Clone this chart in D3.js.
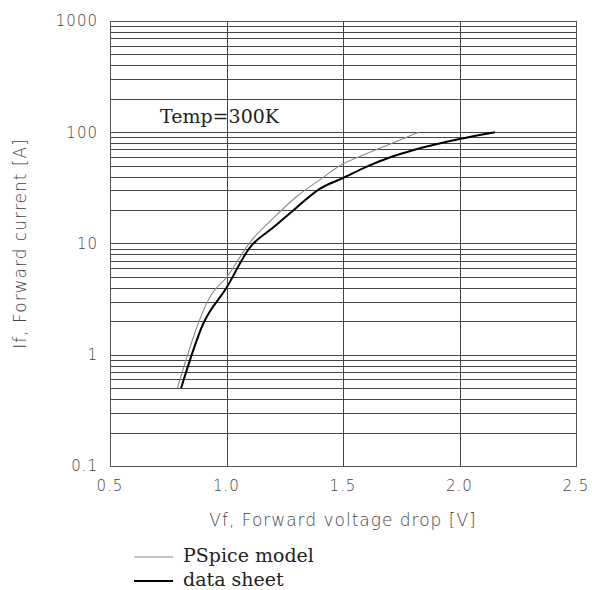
<!DOCTYPE html>
<html>
<head>
<meta charset="utf-8">
<script src="https://cdn.jsdelivr.net/npm/d3@7"></script>
<style>
  html, body { margin: 0; padding: 0; background: #fff; }
  svg { display: block; }
  .sans { font-family: "DejaVu Sans", sans-serif; font-weight: 200; fill: #444; }
  .serif { font-family: "DejaVu Serif", serif; fill: #222; }
</style>
</head>
<body>
<svg id="chart" width="592" height="590"></svg>
<script>
// ---- data ----
const xTicks = [0.5, 1.0, 1.5, 2.0, 2.5];
const xTickLabels = ["0.5", "1.0", "1.5", "2.0", "2.5"];
const yTicks = [0.1, 1, 10, 100, 1000];
const yTickLabels = ["0.1", "1", "10", "100", "1000"];

const pspiceV = [0.789, 0.936, 1.0, 1.1, 1.2, 1.3, 1.4, 1.5, 1.6, 1.7, 1.823];
const pspiceI = [0.5, 3.5, 4.95, 10.2, 16.8, 26.3, 37.3, 52, 64, 78, 100];

const sheetV = [0.805, 0.90, 1.0, 1.1, 1.2, 1.3, 1.4, 1.5, 1.6, 1.7, 1.8, 1.9, 2.0, 2.152];
const sheetI = [0.5, 1.9, 4.0, 9.2, 13.9, 21, 31, 38.8, 48.9, 59.3, 69, 78, 86.9, 100];

const seriesNames = ["PSpice model", "data sheet"];
const annotation = "Temp=300K";
const xTitle = "Vf, Forward voltage drop [V]";
const yTitle = "If, Forward current [A]";

// ---- layout ----
const svg = d3.select("#chart");
const pLeft = 110, pRight = 576, pTop = 21, pBottom = 466;

const x = d3.scaleLinear().domain([0.5, 2.5]).range([pLeft, pRight]);
const y = d3.scaleLog().domain([0.1, 1000]).range([pBottom, pTop]);

const snap = v => Math.round(v) + 0.5;

// horizontal grid: 1..9 x each decade
const hGrid = [];
for (let d = -1; d < 3; d++) {
  for (let m = 1; m <= 9; m++) hGrid.push(m * Math.pow(10, d));
}
hGrid.push(1000);

const grid = svg.append("g").attr("stroke", "#444").attr("stroke-width", 1).attr("fill", "none");
grid.selectAll("line.h").data(hGrid).join("line").attr("class", "h")
  .attr("x1", pLeft).attr("x2", pRight)
  .attr("y1", d => snap(y(d))).attr("y2", d => snap(y(d)));
grid.selectAll("line.v").data(xTicks).join("line").attr("class", "v")
  .attr("x1", d => snap(x(d))).attr("x2", d => snap(x(d)))
  .attr("y1", pTop).attr("y2", pBottom);
grid.append("rect")
  .attr("x", snap(pLeft)).attr("y", snap(pTop))
  .attr("width", Math.round(pRight) - Math.round(pLeft)).attr("height", Math.round(pBottom) - Math.round(pTop))
  .attr("stroke", "#555");

// tick labels
svg.append("g").selectAll("text").data(yTicks).join("text")
  .attr("class", "sans")
  .attr("x", pLeft - 12).attr("y", d => y(d))
  .attr("dy", "0.36em")
  .attr("text-anchor", "end")
  .style("font-size", "15px").style("letter-spacing", "1px")
  .text((d, i) => yTickLabels[i]);

svg.append("g").selectAll("text").data(xTicks).join("text")
  .attr("class", "sans")
  .attr("x", d => x(d)).attr("y", pBottom + 20)
  .attr("dy", "0.36em")
  .attr("text-anchor", "middle")
  .style("font-size", "15px").style("letter-spacing", "1px")
  .text((d, i) => xTickLabels[i]);

// axis titles
svg.append("text").attr("class", "sans")
  .attr("x", (pLeft + pRight) / 2).attr("y", 520).attr("dy", "0.36em")
  .attr("text-anchor", "middle")
  .style("font-size", "17px").style("letter-spacing", "1px")
  .text(xTitle);

svg.append("text").attr("class", "sans")
  .attr("transform", `translate(20,${(pTop + pBottom) / 2}) rotate(-90)`)
  .attr("dy", "0.36em")
  .attr("text-anchor", "middle")
  .style("font-size", "17px").style("letter-spacing", "1px")
  .text(yTitle);

// curves
const line = d3.line().x(d => x(d[0])).y(d => y(d[1])).curve(d3.curveMonotoneX);
const pspice = pspiceV.map((v, i) => [v, pspiceI[i]]);
const sheet = sheetV.map((v, i) => [v, sheetI[i]]);

svg.append("path").datum(pspice)
  .attr("d", line).attr("fill", "none")
  .attr("stroke", "#8a8a8a").attr("stroke-width", 1.1);
svg.append("path").datum(sheet)
  .attr("d", line).attr("fill", "none")
  .attr("stroke", "#000").attr("stroke-width", 2);

// annotation
svg.append("text").attr("class", "serif")
  .attr("x", 160).attr("y", 116).attr("dy", "0.36em")
  .style("font-size", "19px")
  .text(annotation);

// legend
const legY = [557, 581];
const legColors = ["#8a8a8a", "#000"];
const legWidths = [1.1, 2.2];
const leg = svg.append("g");
leg.selectAll("line").data(seriesNames).join("line")
  .attr("x1", 134).attr("x2", 173)
  .attr("y1", (d, i) => legY[i]).attr("y2", (d, i) => legY[i])
  .attr("stroke", (d, i) => legColors[i])
  .attr("stroke-width", (d, i) => legWidths[i]);
leg.selectAll("text").data(seriesNames).join("text")
  .attr("class", "serif")
  .attr("x", 183).attr("y", (d, i) => legY[i]).attr("dy", "0.28em")
  .style("font-size", "19px")
  .text(d => d);
</script>
</body>
</html>
